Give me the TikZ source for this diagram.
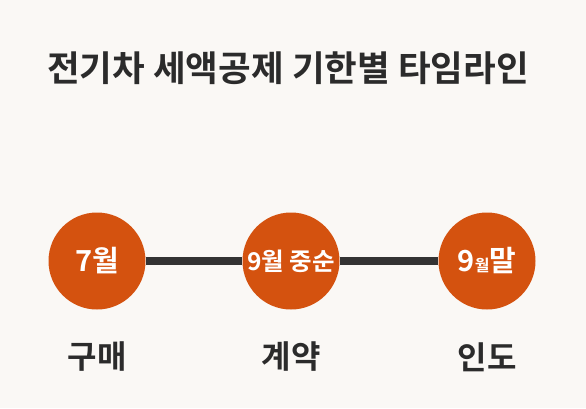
\documentclass[tikz,border=0pt]{standalone}
\usepackage{fontspec}
\setmainfont{Noto Sans CJK KR}[BoldFont={Noto Sans CJK KR Bold}]
\usepackage{xcolor}
\usetikzlibrary{positioning}
\definecolor{paper}{HTML}{FAF8F5}
\definecolor{stageorange}{HTML}{D4520F}
\definecolor{inkdark}{HTML}{2B2B2B}
\definecolor{linkdark}{HTML}{333333}

\begin{document}
\begin{tikzpicture}[x=1pt,y=-1pt,
  stage/.style={circle,fill=stageorange,minimum size=97pt,inner sep=0pt,
    text=white,font=\bfseries\fontsize{29}{31}\selectfont},
  steplabel/.style={font=\bfseries\fontsize{32}{34}\selectfont,text=inkdark},
  link/.style={line width=8pt,draw=linkdark}]
  % Paper background fixes the frame.
  \fill[paper] (0,0) rectangle (586,408);
  \node[font=\bfseries\fontsize{35.5}{38}\selectfont,text=inkdark] (title) at (288,68)
    {전기차 세액공제 기한별 타임라인};
  % Milestones on the timeline.
  \node[stage] (jul) at (97,261) {7월};
  \node[stage,font=\bfseries\fontsize{24.5}{26}\selectfont] (midsep) at (291,261) {9월 중순};
  \node[stage] (endsep) at (487,261) {9{\fontsize{16}{17}\selectfont 월}말};
  \draw[link] (jul) -- (midsep);
  \draw[link] (midsep) -- (endsep);
  % Step names under each milestone.
  \foreach \n/\lab in {jul/구매,midsep/계약,endsep/인도}
    \node[steplabel] (\n-lab) at ([yshift=-96pt]\n) {\lab};
\end{tikzpicture}
\end{document}
